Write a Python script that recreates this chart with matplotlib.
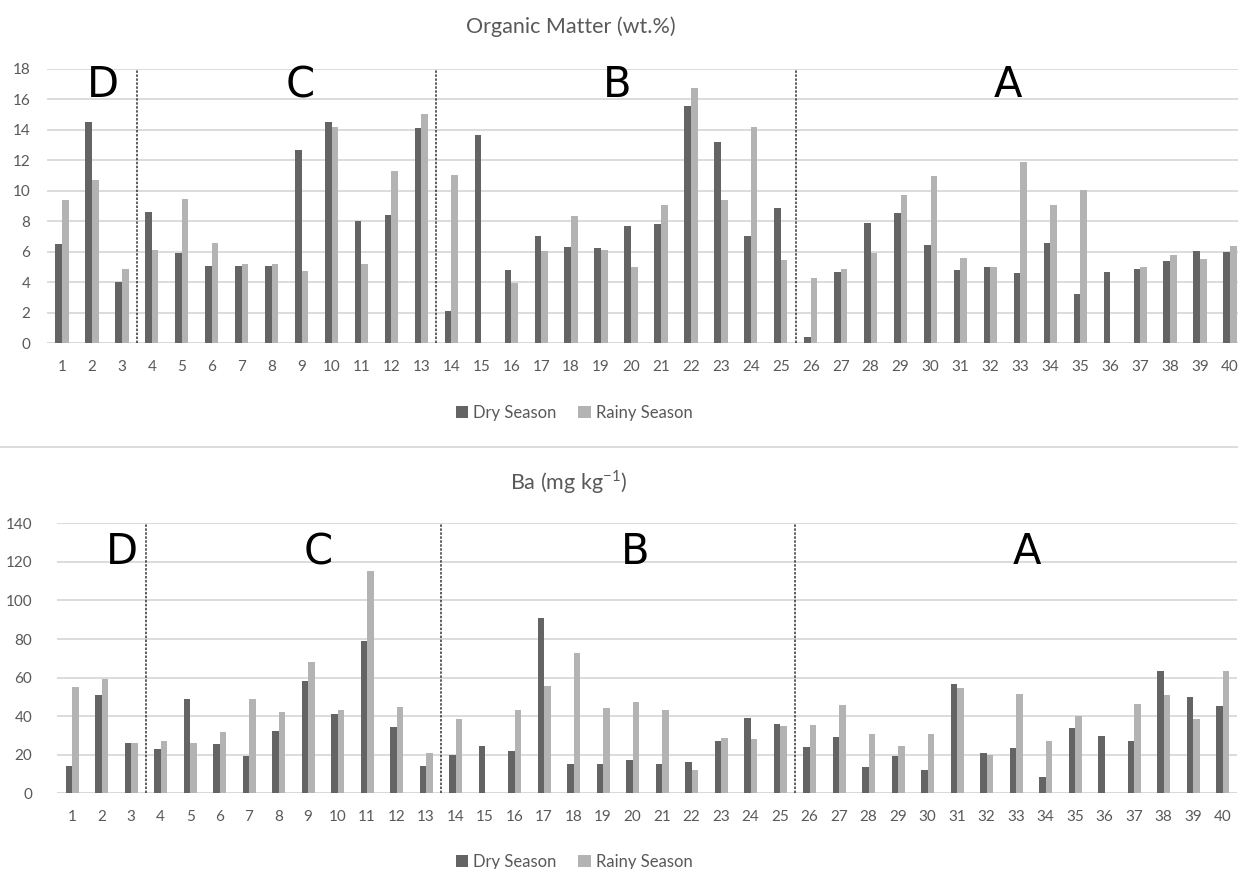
import numpy as np
import matplotlib
matplotlib.use("Agg")
import matplotlib.pyplot as plt
from matplotlib.patches import Patch
from matplotlib.lines import Line2D

# Sampling stations
stations = list(range(1, 41))

# Organic matter (wt.%)
om_dry = [6.5, 14.5, 4.05, 8.6, 5.95, 5.1, 5.1, 5.1, 12.7, 14.55,
          8.0, 8.45, 14.15, 2.1, 13.7, 4.8, 7.07, 6.32, 6.26, 7.72,
          7.83, 15.54, 13.22, 7.05, 8.86, 0.4, 4.68, 7.92, 8.53, 6.43,
          4.81, 5.02, 4.64, 6.61, 3.24, 4.68, 4.9, 5.38, 6.04, 5.97]
om_rainy = [9.41, 10.72, 4.88, 6.13, 9.47, 6.61, 5.19, 5.19, 4.77, 14.18,
            5.23, 11.31, 15.03, 11.03, 0.0, 3.96, 6.08, 8.38, 6.15, 4.99,
            9.08, 16.78, 9.43, 14.22, 5.47, 4.29, 4.86, 5.91, 9.74, 10.98,
            5.6, 5.02, 11.93, 9.06, 10.07, 0.0, 4.99, 5.82, 5.56, 6.39]

# Ba (mg kg-1)
ba_dry = [14.3, 50.8, 25.9, 22.8, 49.1, 25.4, 19.2, 32.5, 58.1, 41.0,
          79.0, 34.2, 14.0, 19.7, 24.4, 21.8, 91.1, 15.2, 15.2, 17.5,
          15.2, 16.4, 27.1, 38.9, 35.8, 23.9, 29.4, 13.8, 19.2, 12.1,
          56.5, 20.9, 23.7, 8.5, 34.0, 29.7, 27.1, 63.6, 50.1, 45.1]
ba_rainy = [55.3, 59.3, 25.9, 27.3, 25.9, 31.8, 49.1, 42.0, 68.1, 43.2,
            115.3, 44.9, 20.7, 38.7, 0.0, 43.2, 55.8, 72.6, 44.1, 47.5,
            43.0, 12.1, 28.9, 28.2, 34.9, 35.3, 45.6, 30.6, 24.4, 30.8,
            54.6, 19.7, 51.3, 27.1, 40.1, 0.0, 46.5, 50.8, 38.7, 63.6]

# Zone boundaries and zone labels
zone_bounds = [3.5, 13.5, 25.5]
zone_names = ["D", "C", "B", "A"]

series_names = ["Dry Season", "Rainy Season"]
DARK = "#646464"
LIGHT = "#b3b3b3"
GRID = "#d9d9d9"
TXT = "#595959"

plt.rcParams["font.family"] = ["Lato", "DejaVu Sans"]

fig = plt.figure(figsize=(12.38, 8.69), dpi=100)
W, H = 1238.0, 869.0


def px_axes(left, right, top, bottom):
    return fig.add_axes([left / W, 1 - bottom / H, (right - left) / W, (bottom - top) / H])


def draw_panel(ax, dry, rainy, ymax, ystep, zone_pos, zone_y, ypad):
    x = np.array(stations, dtype=float)
    w = 0.222
    ax.bar(x - w / 2, dry, width=w, color=DARK, zorder=3)
    ax.bar(x + w / 2, rainy, width=w, color=LIGHT, zorder=3)
    ax.set_xlim(0.5, 40.5)
    ax.set_ylim(0, ymax)
    ax.set_yticks(np.arange(0, ymax + 0.001, ystep))
    ax.yaxis.grid(True, color=GRID, lw=1.3, zorder=0)
    ax.set_axisbelow(True)
    for s in ["top", "right", "left", "bottom"]:
        ax.spines[s].set_visible(False)
    ax.axhline(0, color=GRID, lw=1.3, zorder=1)
    ax.set_xticks(stations)
    ax.set_xticklabels([str(s) for s in stations])
    ax.tick_params(axis="both", length=0, labelsize=11, colors=TXT)
    ax.tick_params(axis="x", pad=12)
    ax.tick_params(axis="y", pad=ypad)
    for b in zone_bounds:
        ax.plot([b, b], [0, ymax], color="#333333", lw=1.1,
                linestyle=(0, (1.6, 1.0)), zorder=4, clip_on=False)
    for name, xp in zip(zone_names, zone_pos):
        ax.text(xp, zone_y, name, ha="center", va="center", fontsize=30,
                color="black", family="DejaVu Sans", zorder=5)


ax1 = px_axes(47, 1245, 69, 343.3)
draw_panel(ax1, om_dry, om_rainy, 18, 2, [2.37, 8.95, 19.53, 32.6], 16.95, 12)
ax2 = px_axes(57.3, 1237.3, 523.3, 793.3)
draw_panel(ax2, ba_dry, ba_rainy, 140, 20, [2.69, 9.34, 20.08, 33.37], 125.1, 18)

fig.text(571 / W, 1 - 27 / H, "Organic Matter (wt.%)", ha="center", va="center",
         fontsize=15.5, color=TXT)
fig.text(569 / W, 1 - 482 / H, r"Ba (mg kg$^{\mathregular{-1}}$)", ha="center", va="center",
         fontsize=15.5, color=TXT)

handles = [Patch(facecolor=DARK, edgecolor="none"), Patch(facecolor=LIGHT, edgecolor="none")]
for yc in (413, 862):
    leg = fig.legend(handles, series_names, loc="center", bbox_to_anchor=(574 / W, 1 - yc / H),
                     ncol=2, frameon=False, fontsize=12, handlelength=0.75, handleheight=0.75,
                     handletextpad=0.3, columnspacing=1.3)
    for t in leg.get_texts():
        t.set_color(TXT)

fig.add_artist(Line2D([0, 1], [1 - 447 / H, 1 - 447 / H], transform=fig.transFigure,
                      color=GRID, lw=1.3))

fig.savefig("out.png", dpi=100)
